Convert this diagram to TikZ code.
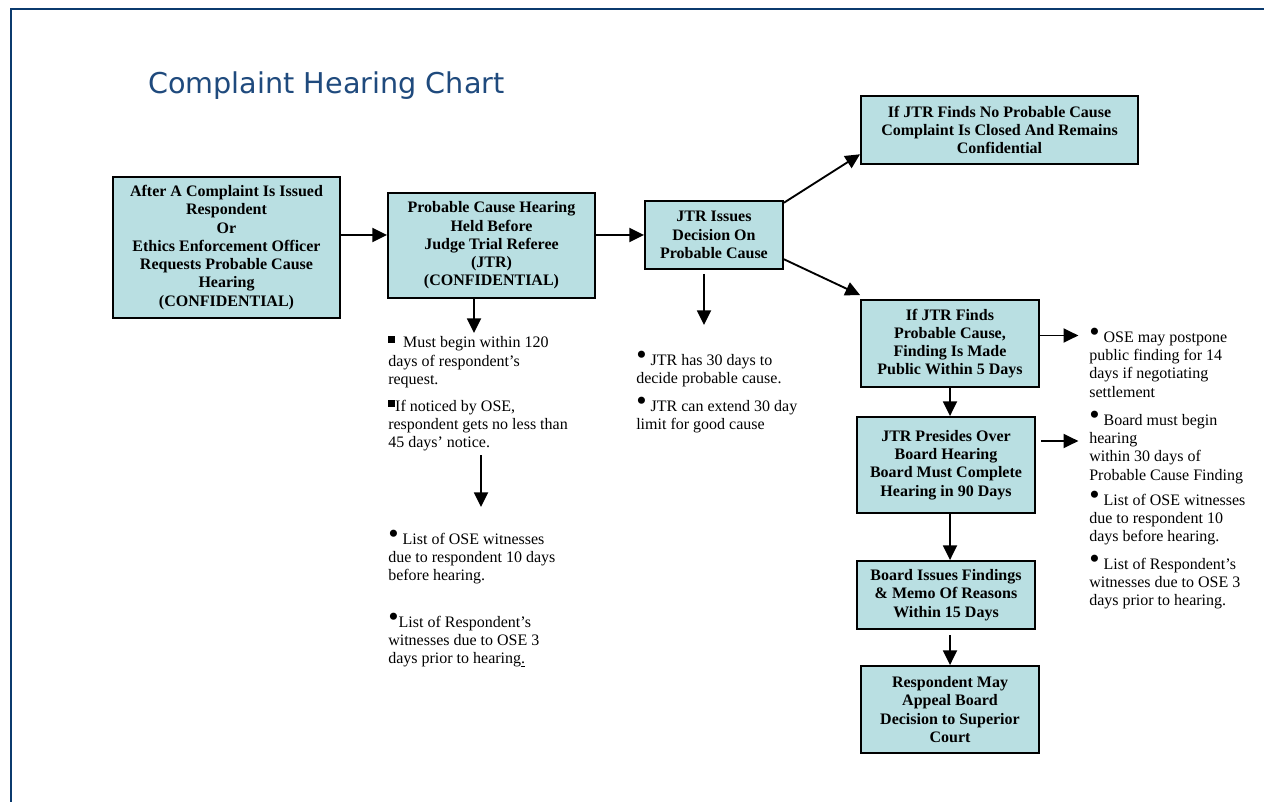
\documentclass[tikz,border=0pt]{standalone}
\usepackage{fontspec}
\setmainfont{Liberation Serif}
\newfontfamily\chartfont{DejaVu Sans}
\usetikzlibrary{arrows.meta,calc}
\definecolor{frameNavy}{HTML}{0B3A6E}
\definecolor{titleBlue}{HTML}{1F4A7D}
\definecolor{stageFill}{HTML}{B9DFE2}
\newcommand\sqbul{\raisebox{3.4pt}{\rule{5.2pt}{5.2pt}}}
\newcommand\rdbul{\raisebox{0.6pt}{\scalebox{1.85}{\textbullet}}}
\tikzset{
  stage/.style={draw, line width=1.4pt, fill=stageFill, align=center,
    inner sep=0pt, font=\fontsize{12}{13.7}\selectfont\bfseries},
  note/.style={anchor=north west, align=left, inner sep=0pt,
    font=\fontsize{12}{13.7}\selectfont},
  flow/.style={-{Triangle[length=11pt,width=10.5pt]}, line width=1.4pt}
}

\begin{document}
\begin{tikzpicture}[x=0.75pt, y=-0.75pt]

\def\px{0.75pt}   % one pixel of the chart
\useasboundingbox (0,0) rectangle (1264,802);

% --- FRAME + TITLE ---
\draw[frameNavy, line width=2.2pt] (11,802) -- (11,9) -- (1264,9);
\node[anchor=base west, inner sep=0pt, text=titleBlue,
  font=\chartfont\fontsize{21.5}{24}\selectfont]
  (title) at (148,94) {Complaint Hearing Chart};

% --- STAGES ---
\node[stage, minimum width=227*\px, minimum height=141*\px]
  (complaint) at (226.5,247.5) {After A Complaint Is Issued\\ Respondent\\ Or\\
  Ethics Enforcement Officer\\ Requests Probable Cause\\ Hearing\\ (CONFIDENTIAL)};
\node[stage, minimum width=207*\px, minimum height=105*\px]
  (pcHearing) at (491.5,245.5) {Probable Cause Hearing\\ Held Before\\
  Judge Trial Referee\\ (JTR)\\ (CONFIDENTIAL)};
\node[stage, minimum width=138*\px, minimum height=68*\px]
  (decision) at (714,235) {JTR Issues\\ Decision On\\ Probable Cause};
\node[stage, minimum width=277*\px, minimum height=68*\px]
  (noCause) at (999.5,130) {If JTR Finds No Probable Cause\\
  Complaint Is Closed And Remains\\ Confidential};
\node[stage, minimum width=178*\px, minimum height=87*\px]
  (cause) at (950,343.5) {If JTR Finds\\ Probable Cause,\\
  Finding Is Made\\ Public Within 5 Days};
\node[stage, minimum width=178*\px, minimum height=96*\px]
  (presides) at (946,465) {JTR Presides Over\\ Board Hearing\\
  Board Must Complete\\ Hearing in 90 Days};
\node[stage, minimum width=178*\px, minimum height=68*\px]
  (findings) at (946,595) {Board Issues Findings\\
  \& Memo Of Reasons\\ Within 15 Days};
\node[stage, minimum width=178*\px, minimum height=87*\px]
  (appeal) at (950,709.5) {Respondent May\\ Appeal Board\\
  Decision to Superior\\ Court};

% --- NOTES ---
\node[note] (hearingNote) at (388,336) {%
  \sqbul\ \ Must begin within 120\\ days of respondent’s\\ request.\\[6.5pt]
  \sqbul If noticed by OSE,\\ respondent gets no less than\\ 45 days’ notice.};
\node[note] (witnessNote) at (388,530) {%
  \rdbul\ List of OSE witnesses\\ due to respondent 10 days\\ before hearing.\\[21pt]
  \rdbul List of Respondent’s\\ witnesses due to OSE 3\\
  days prior to hearing\underline{.}};
\node[note] (decisionNote) at (636,351) {%
  \rdbul\ JTR has 30 days to\\ decide probable cause.\\[7pt]
  \rdbul\ JTR can extend 30 day\\ limit for good cause};
\node[note] (causeNote) at (1089,328) {%
  \rdbul\ OSE may postpone\\ public finding for 14\\
  days if negotiating\\ settlement};
\node[note] (boardNote) at (1089,411) {%
  \rdbul\ Board must begin\\ hearing\\ within 30 days of\\
  Probable Cause Finding\\[5pt]
  \rdbul\ List of OSE witnesses\\ due to respondent 10\\
  days before hearing.\\[7pt]
  \rdbul\ List of Respondent’s\\ witnesses due to OSE 3\\
  days prior to hearing.};

% --- FREE ARROW ENDS ---
\coordinate (hearingTip) at (474,333);
\coordinate (witnessTop) at (481,455);
\coordinate (witnessTip) at (481,507);
\coordinate (decisionTop) at (704,274);
\coordinate (decisionTip) at (704,325);

% --- CONNECTORS ---
\draw[flow] (complaint.east |- decision.west) -- (pcHearing.west |- decision.west);
\draw[flow] (pcHearing.east |- decision.west) -- (decision.west);
\draw[flow] ([yshift=-2pt]decision.north east) -- ([yshift=8pt]noCause.south west);
\draw[flow] ([yshift=8pt]decision.south east) -- ([yshift=3pt]cause.north west);
\draw[flow] (pcHearing.south -| hearingTip) -- (hearingTip);
\draw[flow] (witnessTop) -- (witnessTip);
\draw[flow] (decisionTop) -- (decisionTip);
\draw[flow, shorten >=8pt] ([yshift=6pt]cause.east)
  -- ([yshift=6pt]cause.east -| causeNote.west);
\draw[flow, shorten >=8pt] ([xshift=4pt,yshift=18pt]presides.east)
  -- ([yshift=18pt]presides.east -| boardNote.west);
\draw[flow] (cause.south) -- (cause.south |- presides.north);
\draw[flow] (presides.south -| cause.south) -- (cause.south |- findings.north);
\draw[flow] ([yshift=-4pt]findings.south -| cause.south)
  -- (cause.south |- appeal.north);

\end{tikzpicture}
\end{document}
